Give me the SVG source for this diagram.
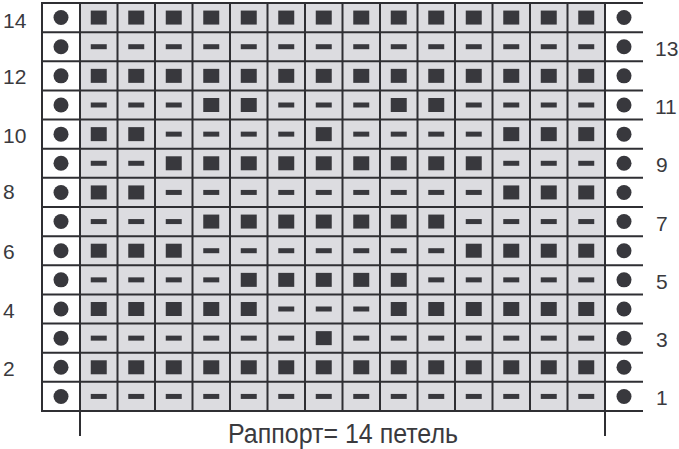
<svg xmlns="http://www.w3.org/2000/svg" xmlns:xlink="http://www.w3.org/1999/xlink" width="679" height="449" viewBox="0 0 679 449">
<style>
.bg{fill:#ffffff}
.field{fill:#dcdce0}
.grid{fill:none;stroke:#2f2f33;stroke-width:2}
.sym{fill:#38383d}
.num{font-family:"Liberation Sans",Arial,sans-serif;font-size:21px;fill:#3a3a3e}
.cap{font-family:"Liberation Sans",Arial,sans-serif;font-size:27px;fill:#3a3a3e}
</style>
<defs>
<rect id="p" class="sym" x="-8" y="-7" width="16" height="14"/>
<rect id="m" class="sym" x="-8" y="-2.5" width="16" height="5"/>
<circle id="d" class="sym" r="7.5"/>
</defs>
<rect class="bg" x="0" y="0" width="679" height="449"/>
<rect class="field" x="80" y="3" width="525" height="408"/>
<g id="grid-lines">
<path class="grid" d="M42 3H643M42 32.14H643M42 61.29H643M42 90.43H643M42 119.57H643M42 148.71H643M42 177.86H643M42 207H643M42 236.14H643M42 265.29H643M42 294.43H643M42 323.57H643M42 352.71H643M42 381.86H643M42 411H643"/>
<path class="grid" d="M42 2V412M80 2V436M605 2V436M117.5 3V411M155 3V411M192.5 3V411M230 3V411M267.5 3V411M305 3V411M342.5 3V411M380 3V411M417.5 3V411M455 3V411M492.5 3V411M530 3V411M567.5 3V411"/>
</g>
<g id="edge-dots">
<use href="#d" x="61" y="17.57"/><use href="#d" x="624" y="17.57"/>
<use href="#d" x="61" y="46.71"/><use href="#d" x="624" y="46.71"/>
<use href="#d" x="61" y="75.86"/><use href="#d" x="624" y="75.86"/>
<use href="#d" x="61" y="105"/><use href="#d" x="624" y="105"/>
<use href="#d" x="61" y="134.14"/><use href="#d" x="624" y="134.14"/>
<use href="#d" x="61" y="163.29"/><use href="#d" x="624" y="163.29"/>
<use href="#d" x="61" y="192.43"/><use href="#d" x="624" y="192.43"/>
<use href="#d" x="61" y="221.57"/><use href="#d" x="624" y="221.57"/>
<use href="#d" x="61" y="250.71"/><use href="#d" x="624" y="250.71"/>
<use href="#d" x="61" y="279.86"/><use href="#d" x="624" y="279.86"/>
<use href="#d" x="61" y="309"/><use href="#d" x="624" y="309"/>
<use href="#d" x="61" y="338.14"/><use href="#d" x="624" y="338.14"/>
<use href="#d" x="61" y="367.29"/><use href="#d" x="624" y="367.29"/>
<use href="#d" x="61" y="396.43"/><use href="#d" x="624" y="396.43"/>
</g>
<g id="row14" transform="translate(0,17.57)">
<use href="#p" x="98.75"/><use href="#p" x="136.25"/><use href="#p" x="173.75"/><use href="#p" x="211.25"/><use href="#p" x="248.75"/><use href="#p" x="286.25"/><use href="#p" x="323.75"/><use href="#p" x="361.25"/><use href="#p" x="398.75"/><use href="#p" x="436.25"/><use href="#p" x="473.75"/><use href="#p" x="511.25"/><use href="#p" x="548.75"/><use href="#p" x="586.25"/>
</g>
<g id="row13" transform="translate(0,46.71)">
<use href="#m" x="98.75"/><use href="#m" x="136.25"/><use href="#m" x="173.75"/><use href="#m" x="211.25"/><use href="#m" x="248.75"/><use href="#m" x="286.25"/><use href="#m" x="323.75"/><use href="#m" x="361.25"/><use href="#m" x="398.75"/><use href="#m" x="436.25"/><use href="#m" x="473.75"/><use href="#m" x="511.25"/><use href="#m" x="548.75"/><use href="#m" x="586.25"/>
</g>
<g id="row12" transform="translate(0,75.86)">
<use href="#p" x="98.75"/><use href="#p" x="136.25"/><use href="#p" x="173.75"/><use href="#p" x="211.25"/><use href="#p" x="248.75"/><use href="#p" x="286.25"/><use href="#p" x="323.75"/><use href="#p" x="361.25"/><use href="#p" x="398.75"/><use href="#p" x="436.25"/><use href="#p" x="473.75"/><use href="#p" x="511.25"/><use href="#p" x="548.75"/><use href="#p" x="586.25"/>
</g>
<g id="row11" transform="translate(0,105)">
<use href="#m" x="98.75"/><use href="#m" x="136.25"/><use href="#m" x="173.75"/><use href="#p" x="211.25"/><use href="#p" x="248.75"/><use href="#m" x="286.25"/><use href="#m" x="323.75"/><use href="#m" x="361.25"/><use href="#p" x="398.75"/><use href="#p" x="436.25"/><use href="#m" x="473.75"/><use href="#m" x="511.25"/><use href="#m" x="548.75"/><use href="#m" x="586.25"/>
</g>
<g id="row10" transform="translate(0,134.14)">
<use href="#p" x="98.75"/><use href="#p" x="136.25"/><use href="#m" x="173.75"/><use href="#m" x="211.25"/><use href="#m" x="248.75"/><use href="#m" x="286.25"/><use href="#p" x="323.75"/><use href="#m" x="361.25"/><use href="#m" x="398.75"/><use href="#m" x="436.25"/><use href="#m" x="473.75"/><use href="#p" x="511.25"/><use href="#p" x="548.75"/><use href="#p" x="586.25"/>
</g>
<g id="row9" transform="translate(0,163.29)">
<use href="#m" x="98.75"/><use href="#m" x="136.25"/><use href="#p" x="173.75"/><use href="#p" x="211.25"/><use href="#p" x="248.75"/><use href="#p" x="286.25"/><use href="#p" x="323.75"/><use href="#p" x="361.25"/><use href="#p" x="398.75"/><use href="#p" x="436.25"/><use href="#p" x="473.75"/><use href="#m" x="511.25"/><use href="#m" x="548.75"/><use href="#m" x="586.25"/>
</g>
<g id="row8" transform="translate(0,192.43)">
<use href="#p" x="98.75"/><use href="#p" x="136.25"/><use href="#m" x="173.75"/><use href="#m" x="211.25"/><use href="#m" x="248.75"/><use href="#m" x="286.25"/><use href="#m" x="323.75"/><use href="#m" x="361.25"/><use href="#m" x="398.75"/><use href="#m" x="436.25"/><use href="#m" x="473.75"/><use href="#p" x="511.25"/><use href="#p" x="548.75"/><use href="#p" x="586.25"/>
</g>
<g id="row7" transform="translate(0,221.57)">
<use href="#m" x="98.75"/><use href="#m" x="136.25"/><use href="#m" x="173.75"/><use href="#p" x="211.25"/><use href="#p" x="248.75"/><use href="#p" x="286.25"/><use href="#p" x="323.75"/><use href="#p" x="361.25"/><use href="#p" x="398.75"/><use href="#p" x="436.25"/><use href="#m" x="473.75"/><use href="#m" x="511.25"/><use href="#m" x="548.75"/><use href="#m" x="586.25"/>
</g>
<g id="row6" transform="translate(0,250.71)">
<use href="#p" x="98.75"/><use href="#p" x="136.25"/><use href="#p" x="173.75"/><use href="#m" x="211.25"/><use href="#m" x="248.75"/><use href="#m" x="286.25"/><use href="#m" x="323.75"/><use href="#m" x="361.25"/><use href="#m" x="398.75"/><use href="#m" x="436.25"/><use href="#p" x="473.75"/><use href="#p" x="511.25"/><use href="#p" x="548.75"/><use href="#p" x="586.25"/>
</g>
<g id="row5" transform="translate(0,279.86)">
<use href="#m" x="98.75"/><use href="#m" x="136.25"/><use href="#m" x="173.75"/><use href="#m" x="211.25"/><use href="#p" x="248.75"/><use href="#p" x="286.25"/><use href="#p" x="323.75"/><use href="#p" x="361.25"/><use href="#p" x="398.75"/><use href="#m" x="436.25"/><use href="#m" x="473.75"/><use href="#m" x="511.25"/><use href="#m" x="548.75"/><use href="#m" x="586.25"/>
</g>
<g id="row4" transform="translate(0,309)">
<use href="#p" x="98.75"/><use href="#p" x="136.25"/><use href="#p" x="173.75"/><use href="#p" x="211.25"/><use href="#p" x="248.75"/><use href="#m" x="286.25"/><use href="#m" x="323.75"/><use href="#m" x="361.25"/><use href="#p" x="398.75"/><use href="#p" x="436.25"/><use href="#p" x="473.75"/><use href="#p" x="511.25"/><use href="#p" x="548.75"/><use href="#p" x="586.25"/>
</g>
<g id="row3" transform="translate(0,338.14)">
<use href="#m" x="98.75"/><use href="#m" x="136.25"/><use href="#m" x="173.75"/><use href="#m" x="211.25"/><use href="#m" x="248.75"/><use href="#m" x="286.25"/><use href="#p" x="323.75"/><use href="#m" x="361.25"/><use href="#m" x="398.75"/><use href="#m" x="436.25"/><use href="#m" x="473.75"/><use href="#m" x="511.25"/><use href="#m" x="548.75"/><use href="#m" x="586.25"/>
</g>
<g id="row2" transform="translate(0,367.29)">
<use href="#p" x="98.75"/><use href="#p" x="136.25"/><use href="#p" x="173.75"/><use href="#p" x="211.25"/><use href="#p" x="248.75"/><use href="#p" x="286.25"/><use href="#p" x="323.75"/><use href="#p" x="361.25"/><use href="#p" x="398.75"/><use href="#p" x="436.25"/><use href="#p" x="473.75"/><use href="#p" x="511.25"/><use href="#p" x="548.75"/><use href="#p" x="586.25"/>
</g>
<g id="row1" transform="translate(0,396.43)">
<use href="#m" x="98.75"/><use href="#m" x="136.25"/><use href="#m" x="173.75"/><use href="#m" x="211.25"/><use href="#m" x="248.75"/><use href="#m" x="286.25"/><use href="#m" x="323.75"/><use href="#m" x="361.25"/><use href="#m" x="398.75"/><use href="#m" x="436.25"/><use href="#m" x="473.75"/><use href="#m" x="511.25"/><use href="#m" x="548.75"/><use href="#m" x="586.25"/>
</g>
<g id="row-numbers-left">
<text class="num" x="3" y="28">14</text>
<text class="num" x="3" y="84">12</text>
<text class="num" x="3" y="143">10</text>
<text class="num" x="3" y="199">8</text>
<text class="num" x="3" y="259">6</text>
<text class="num" x="3" y="318">4</text>
<text class="num" x="3" y="376">2</text>
</g>
<g id="row-numbers-right">
<text class="num" x="655" y="56">13</text>
<text class="num" x="655" y="114">11</text>
<text class="num" x="656" y="172">9</text>
<text class="num" x="656" y="231">7</text>
<text class="num" x="656" y="289">5</text>
<text class="num" x="656" y="347">3</text>
<text class="num" x="656" y="405">1</text>
</g>
<g id="repeat-label">
<text class="cap" x="228" y="443" textLength="230" lengthAdjust="spacingAndGlyphs">Раппорт= 14 петель</text>
</g>
</svg>
